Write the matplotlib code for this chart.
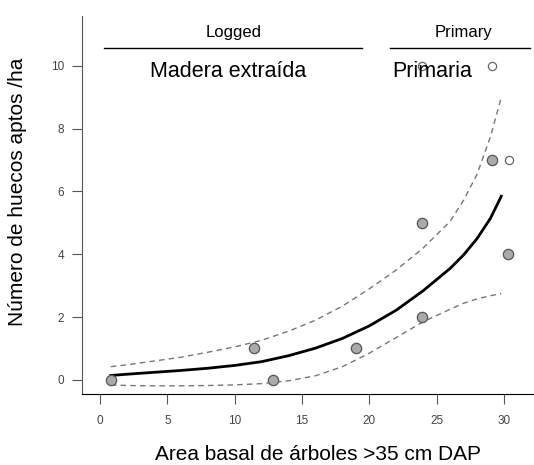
import numpy as np
import matplotlib.pyplot as plt

plt.rcParams['font.family'] = ['Liberation Sans', 'DejaVu Sans']

# Observed points (area basal, huecos/ha)
logged_x = [0.8, 11.4, 12.85, 19.0, 23.9, 23.9, 29.1, 30.3]
logged_y = [0, 1, 0, 1, 2, 5, 7, 4]
primary_x = [23.9, 29.1, 30.4]
primary_y = [10, 10, 7]

# Fitted curve and confidence band
fit_x = [0.8, 2, 4, 6, 8, 10, 12, 14, 16, 18, 20, 22, 24, 26, 27, 28, 29, 29.8]
fit_y = [0.14, 0.18, 0.24, 0.30, 0.37, 0.46, 0.58, 0.77, 1.01, 1.32, 1.72, 2.22,
         2.84, 3.55, 3.98, 4.50, 5.15, 5.85]
upper_y = [0.42, 0.48, 0.60, 0.72, 0.88, 1.05, 1.26, 1.55, 1.90, 2.35, 2.90, 3.50,
           4.20, 5.05, 5.72, 6.55, 7.75, 9.00]
lower_y = [-0.16, -0.18, -0.19, -0.19, -0.18, -0.16, -0.12, -0.03, 0.13, 0.42, 0.85,
           1.35, 1.85, 2.25, 2.44, 2.58, 2.68, 2.75]

fig = plt.figure(figsize=(5.34, 4.65), dpi=100)
ax = fig.add_axes([0.1536, 0.1527, 0.8444, 0.8129])

ax.plot(fit_x, upper_y, color='#777777', lw=1, ls=(0, (4, 3)))
ax.plot(fit_x, lower_y, color='#777777', lw=1, ls=(0, (4, 3)))
ax.plot(fit_x, fit_y, color='black', lw=2)

ax.scatter(logged_x, logged_y, s=55, facecolor='#aaaaaa', edgecolor='#555555', lw=0.9, zorder=3)
ax.scatter(primary_x, primary_y, s=35, facecolor='white', edgecolor='#666666', lw=0.9, zorder=3)

# group labels
ax.plot([0.3, 19.45], [10.57, 10.57], color='black', lw=1)
ax.plot([21.5, 31.9], [10.57, 10.57], color='black', lw=1)
ax.text(9.9, 11.08, 'Logged', ha='center', va='center', fontsize=12)
ax.text(27.0, 11.08, 'Primary', ha='center', va='center', fontsize=12)
ax.text(9.5, 9.82, 'Madera extraída', ha='center', va='center', fontsize=15.5)
ax.text(21.7, 9.82, 'Primaria', ha='left', va='center', fontsize=15.5)

ax.set_xlim(-1.34, 32.15)
ax.set_ylim(-0.45, 11.59)
ax.set_xticks([0, 5, 10, 15, 20, 25, 30])
ax.set_yticks([0, 2, 4, 6, 8, 10])
ax.spines['top'].set_visible(False)
ax.spines['right'].set_visible(False)
ax.spines['left'].set_color('#555555')
ax.tick_params(axis='both', length=7, width=0.8, color='#555555', labelsize=8.5, labelcolor='#444444')
ax.tick_params(axis='x', pad=8)
ax.tick_params(axis='y', pad=6)

ax.set_xlabel('Area basal de árboles >35 cm DAP', fontsize=15, va='center')
ax.set_ylabel('Número de huecos aptos /ha', fontsize=15, va='center')
ax.xaxis.set_label_coords(0.523, -0.161)
ax.yaxis.set_label_coords(-0.142, 0.534)

fig.savefig('out.png', dpi=100)
